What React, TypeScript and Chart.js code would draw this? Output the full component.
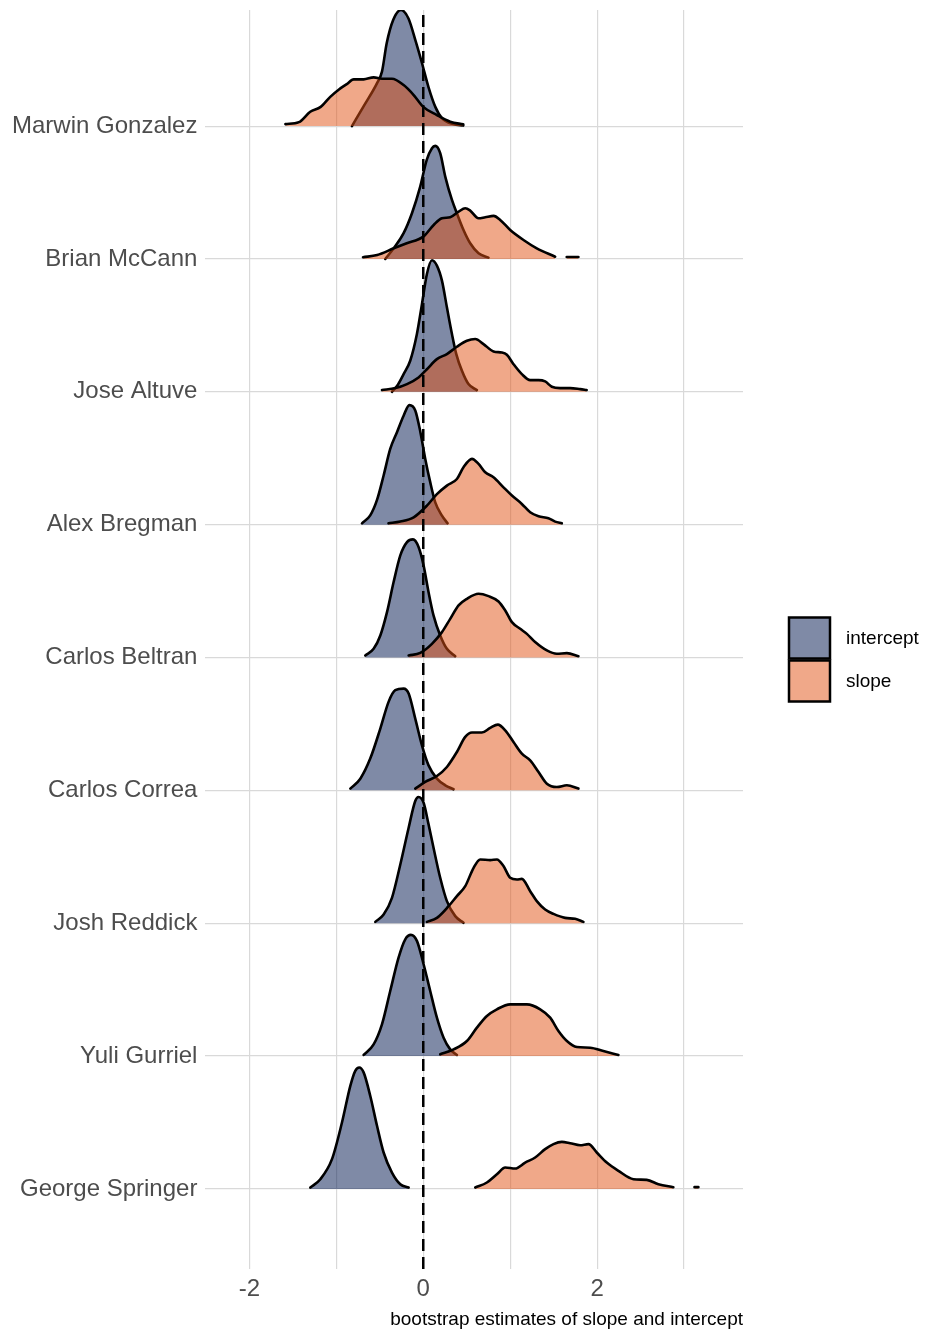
import React, { useEffect, useRef } from "react";
import { Chart, registerables } from "chart.js";

Chart.register(...registerables);

type Pt = [number, number | null];

// Rows, top to bottom
const players = [
  "Marwin Gonzalez",
  "Brian McCann",
  "Jose Altuve",
  "Alex Bregman",
  "Carlos Beltran",
  "Carlos Correa",
  "Josh Reddick",
  "Yuli Gurriel",
  "George Springer",
];

// density curves: [x, height in row units]
const marwinIntercept: Pt[] = [[-0.82,0],[-0.69,0.145],[-0.53,0.325],[-0.475,0.41],[-0.42,0.625],[-0.345,0.8],[-0.256,0.874],[-0.17,0.81],[-0.09,0.645],[-0.015,0.475],[0.06,0.294],[0.14,0.143],[0.215,0.06],[0.345,0.015],[0.46,0.004]];
const marwinSlope: Pt[] = [[-1.586,0.015],[-1.43,0.03],[-1.3,0.108],[-1.18,0.145],[-1.07,0.22],[-0.97,0.276],[-0.88,0.316],[-0.8,0.352],[-0.686,0.352],[-0.57,0.367],[-0.475,0.356],[-0.36,0.356],[-0.226,0.309],[-0.11,0.234],[0,0.145],[0.157,0.083],[0.31,0.033],[0.46,0.013]];
const brianIntercept: Pt[] = [[-0.437,0],[-0.34,0.08],[-0.226,0.194],[-0.13,0.344],[-0.035,0.545],[0.04,0.746],[0.1,0.834],[0.138,0.851],[0.195,0.796],[0.253,0.62],[0.33,0.444],[0.387,0.344],[0.463,0.218],[0.54,0.118],[0.636,0.043],[0.75,0.01]];
const brianSlope: Pt[] = [[-0.693,0.013],[-0.53,0.03],[-0.34,0.08],[-0.19,0.118],[0,0.168],[0.12,0.256],[0.215,0.306],[0.31,0.314],[0.406,0.356],[0.483,0.382],[0.54,0.364],[0.636,0.306],[0.713,0.314],[0.81,0.324],[0.885,0.294],[1.0,0.218],[1.153,0.143],[1.306,0.08],[1.517,0.017],[1.58,null],[1.65,0.015],[1.785,0.015]];
const joseIntercept: Pt[] = [[-0.36,0],[-0.3,0.045],[-0.226,0.133],[-0.15,0.234],[-0.073,0.435],[-0.015,0.66],[0.042,0.887],[0.1,0.99],[0.157,0.95],[0.215,0.837],[0.272,0.636],[0.33,0.435],[0.38,0.284],[0.445,0.158],[0.52,0.058],[0.617,0.013]];
const joseSlope: Pt[] = [[-0.475,0.013],[-0.32,0.028],[-0.187,0.058],[-0.054,0.108],[0.042,0.17],[0.157,0.246],[0.272,0.284],[0.387,0.339],[0.502,0.384],[0.598,0.397],[0.693,0.359],[0.808,0.304],[0.904,0.296],[0.962,0.279],[1.038,0.208],[1.134,0.133],[1.23,0.088],[1.326,0.088],[1.402,0.078],[1.479,0.038],[1.575,0.028],[1.69,0.028],[1.805,0.02],[1.88,0.013]];
const alexIntercept: Pt[] = [[-0.705,0.01],[-0.61,0.07],[-0.53,0.19],[-0.456,0.37],[-0.38,0.57],[-0.3,0.7],[-0.226,0.82],[-0.16,0.9],[-0.092,0.86],[-0.034,0.7],[0.023,0.495],[0.08,0.32],[0.138,0.168],[0.215,0.068],[0.28,0.01]];
const alexSlope: Pt[] = [[-0.4,0.01],[-0.264,0.023],[-0.11,0.055],[0.042,0.143],[0.157,0.23],[0.272,0.294],[0.387,0.344],[0.463,0.432],[0.56,0.495],[0.636,0.457],[0.713,0.394],[0.808,0.357],[0.923,0.281],[1.02,0.219],[1.134,0.156],[1.23,0.093],[1.326,0.063],[1.44,0.048],[1.517,0.023],[1.594,0.01]];
const beltranIntercept: Pt[] = [[-0.667,0.015],[-0.571,0.065],[-0.494,0.166],[-0.417,0.342],[-0.341,0.568],[-0.264,0.769],[-0.187,0.869],[-0.118,0.889],[-0.054,0.832],[0.004,0.693],[0.061,0.492],[0.118,0.317],[0.195,0.166],[0.272,0.065],[0.368,0.01]];
const beltranSlope: Pt[] = [[-0.168,0.015],[-0.034,0.035],[0.1,0.103],[0.215,0.191],[0.31,0.291],[0.406,0.392],[0.502,0.442],[0.636,0.48],[0.751,0.462],[0.866,0.422],[0.943,0.354],[1.02,0.266],[1.115,0.216],[1.192,0.178],[1.287,0.116],[1.422,0.053],[1.536,0.028],[1.652,0.033],[1.785,0.01]];
const correaIntercept: Pt[] = [[-0.839,0.013],[-0.724,0.088],[-0.61,0.239],[-0.494,0.465],[-0.399,0.666],[-0.322,0.754],[-0.226,0.766],[-0.168,0.729],[-0.092,0.54],[-0.015,0.339],[0.061,0.188],[0.157,0.088],[0.253,0.038],[0.349,0.008]];
const correaSlope: Pt[] = [[-0.092,0.013],[0.023,0.063],[0.157,0.108],[0.272,0.176],[0.387,0.289],[0.483,0.402],[0.56,0.435],[0.674,0.435],[0.77,0.47],[0.858,0.495],[0.943,0.452],[1.038,0.364],[1.134,0.276],[1.23,0.226],[1.326,0.138],[1.422,0.05],[1.536,0.025],[1.652,0.038],[1.785,0.013]];
const joshIntercept: Pt[] = [[-0.552,0.01],[-0.456,0.065],[-0.36,0.191],[-0.264,0.442],[-0.168,0.719],[-0.092,0.92],[-0.054,0.95],[0.004,0.907],[0.061,0.744],[0.118,0.568],[0.195,0.342],[0.272,0.166],[0.368,0.053],[0.463,0.003]];
const joshSlope: Pt[] = [[0.042,0.01],[0.157,0.04],[0.291,0.128],[0.387,0.204],[0.483,0.279],[0.579,0.417],[0.655,0.48],[0.77,0.475],[0.847,0.48],[0.923,0.43],[1.0,0.342],[1.077,0.329],[1.134,0.334],[1.23,0.241],[1.306,0.166],[1.402,0.103],[1.498,0.07],[1.632,0.04],[1.747,0.033],[1.843,0.01]];
const yuliIntercept: Pt[] = [[-0.686,0.008],[-0.571,0.088],[-0.475,0.239],[-0.38,0.49],[-0.284,0.741],[-0.207,0.879],[-0.142,0.912],[-0.073,0.867],[0.004,0.691],[0.08,0.49],[0.157,0.289],[0.234,0.138],[0.31,0.05],[0.387,0.008]];
const yuliSlope: Pt[] = [[0.195,0.013],[0.349,0.05],[0.502,0.113],[0.617,0.214],[0.732,0.302],[0.847,0.352],[1.0,0.389],[1.192,0.389],[1.345,0.352],[1.46,0.289],[1.555,0.188],[1.652,0.113],[1.767,0.068],[1.92,0.063],[2.072,0.038],[2.245,0.008]];
const georgeIntercept: Pt[] = [[-1.299,0.01],[-1.184,0.073],[-1.05,0.224],[-0.935,0.5],[-0.839,0.776],[-0.782,0.889],[-0.736,0.914],[-0.686,0.877],[-0.61,0.701],[-0.532,0.475],[-0.456,0.274],[-0.36,0.123],[-0.264,0.035],[-0.168,0.01]];
const georgeSlope: Pt[] = [[0.598,0.01],[0.732,0.048],[0.847,0.11],[0.943,0.161],[1.057,0.153],[1.172,0.198],[1.287,0.236],[1.402,0.299],[1.498,0.337],[1.594,0.354],[1.69,0.344],[1.805,0.329],[1.9,0.337],[1.996,0.274],[2.111,0.198],[2.245,0.136],[2.418,0.073],[2.571,0.068],[2.705,0.035],[2.877,0.013],[3.0,null],[3.12,0.013],[3.165,0.013]];

const interceptCurves = [marwinIntercept, brianIntercept, joseIntercept, alexIntercept, beltranIntercept, correaIntercept, joshIntercept, yuliIntercept, georgeIntercept];
const slopeCurves = [marwinSlope, brianSlope, joseSlope, alexSlope, beltranSlope, correaSlope, joshSlope, yuliSlope, georgeSlope];

const xTicks = [-2, -1, 0, 1, 2, 3];
const xLabeled = [-2, 0, 2];
const X_MIN = -2.506;
const X_MAX = 3.678;
const Y_MIN = -0.603;
const Y_MAX = 8.874;

const seriesNames = ["intercept", "slope"];
const INTERCEPT_FILL = "rgba(0, 22, 78, 0.5)";
const SLOPE_FILL = "rgba(226, 82, 20, 0.5)";
const FONT = "'Liberation Sans', Arial, Helvetica, sans-serif";

const legendPlugin = {
  id: "ridgeLegend",
  afterDraw(chart: any) {
    const { ctx, chartArea } = chart;
    const x0 = chartArea.right + 46;
    const cy = (chartArea.top + chartArea.bottom) / 2 + 21;
    const box = 41;
    const fills = [INTERCEPT_FILL, SLOPE_FILL];
    ctx.save();
    seriesNames.forEach((name, i) => {
      const y = cy - 43 + i * 43;
      ctx.fillStyle = "#ffffff";
      ctx.fillRect(x0, y, box, box);
      ctx.fillStyle = fills[i];
      ctx.fillRect(x0, y, box, box);
      ctx.lineWidth = 2.5;
      ctx.strokeStyle = "#000000";
      ctx.strokeRect(x0, y, box, box);
      ctx.fillStyle = "#000000";
      ctx.font = `19px ${FONT}`;
      ctx.textBaseline = "middle";
      ctx.textAlign = "left";
      ctx.fillText(name, x0 + 57, y + box / 2 + 1);
    });
    ctx.restore();
  },
};

export default function App() {
  const canvasRef = useRef<HTMLCanvasElement>(null);

  useEffect(() => {
    document.body.style.margin = "0";
    const n = players.length;
    const datasets: any[] = [];
    let k = 0;
    const total = n * 2;
    players.forEach((_, row) => {
      const base = n - 1 - row;
      [interceptCurves[row], slopeCurves[row]].forEach((curve, s) => {
        datasets.push({
          label: `${players[row]} ${seriesNames[s]}`,
          data: curve.map(([x, h]) => ({ x, y: h === null ? null : base + h })),
          borderColor: "#000000",
          borderWidth: 2.6,
          backgroundColor: s === 0 ? INTERCEPT_FILL : SLOPE_FILL,
          fill: { value: base },
          pointRadius: 0,
          pointHoverRadius: 0,
          cubicInterpolationMode: "monotone",
          borderJoinStyle: "round",
          borderCapStyle: "round",
          spanGaps: false,
          order: total - k + 1,
        });
        k++;
      });
    });
    datasets.push({
      label: "zero",
      data: [
        { x: 0, y: Y_MIN },
        { x: 0, y: Y_MAX },
      ],
      borderColor: "#000000",
      borderWidth: 2.5,
      borderDash: [12, 6],
      pointRadius: 0,
      fill: false,
      order: -1,
    });

    const chart = new Chart(canvasRef.current!, {
      type: "line",
      data: { datasets },
      plugins: [legendPlugin],
      options: {
        animation: false,
        responsive: false,
        events: [],
        layout: { padding: { left: 4, right: 183, top: 10, bottom: 4 } },
        plugins: {
          legend: { display: false },
          tooltip: { enabled: false },
        },
        scales: {
          x: {
            type: "linear",
            min: X_MIN,
            max: X_MAX,
            afterBuildTicks: (axis: any) => {
              axis.ticks = xTicks.map((v) => ({ value: v }));
            },
            ticks: {
              autoSkip: false,
              maxRotation: 0,
              padding: 6,
              color: "#4d4d4d",
              font: { family: FONT, size: 24 },
              callback: (v: any) => (xLabeled.includes(Number(v)) ? String(v) : ""),
            },
            grid: { color: "#d9d9d9", lineWidth: 1.2, drawTicks: false },
            border: { display: false },
            title: {
              display: true,
              text: "bootstrap estimates of slope and intercept",
              align: "end",
              color: "#000000",
              font: { family: FONT, size: 19, lineHeight: 1.0 },
              padding: { top: 0.7, bottom: 2.5 },
            },
          },
          y: {
            type: "linear",
            min: Y_MIN,
            max: Y_MAX,
            afterBuildTicks: (axis: any) => {
              axis.ticks = players.map((_, i) => ({ value: i }));
            },
            ticks: {
              autoSkip: false,
              padding: 8,
              color: "#4d4d4d",
              font: { family: FONT, size: 24, lineHeight: 0.05 },
              callback: (v: any) => players[players.length - 1 - Number(v)] ?? "",
            },
            grid: { color: "#d9d9d9", lineWidth: 1.2, drawTicks: false },
            border: { display: false },
          },
        },
      } as any,
    });
    return () => chart.destroy();
  }, []);

  return (
    <div style={{ width: 926, height: 1336 }}>
      <canvas ref={canvasRef} width={926} height={1336} style={{ display: "block" }} />
    </div>
  );
}
